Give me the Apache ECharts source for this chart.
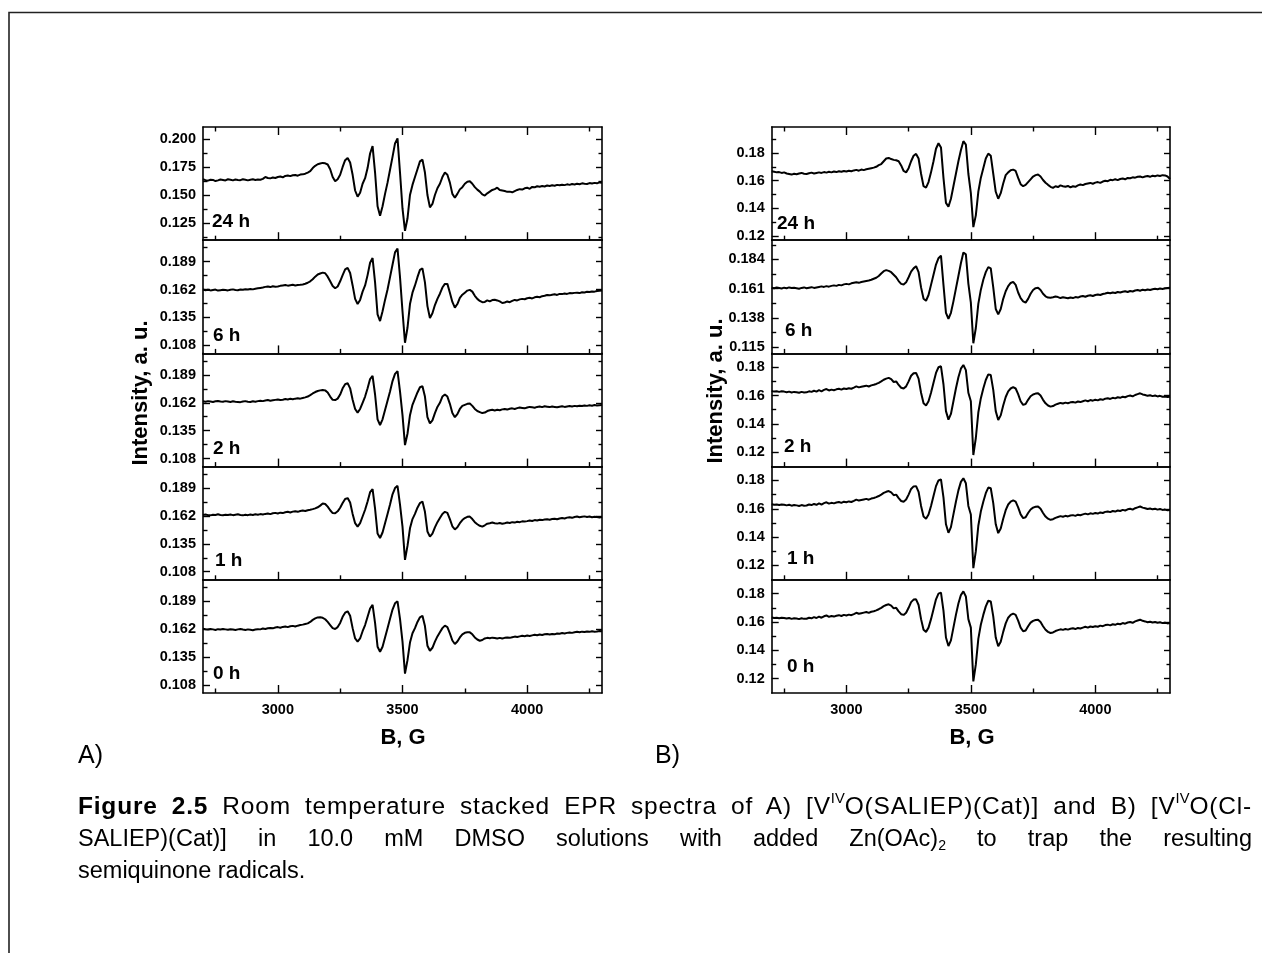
<!DOCTYPE html>
<html>
<head>
<meta charset="utf-8">
<title>Stacked EPR spectra</title>
<script src="https://cdn.jsdelivr.net/npm/echarts@6/dist/echarts.min.js"></script>
<style>
html, body { margin: 0; padding: 0; background: #fff; }
#chart { position: absolute; left: 0; top: 0; width: 1262px; height: 953px; }
#caption { position: absolute; left: 78px; top: 790px; width: 1174px; z-index: 2;
  font-family: "Liberation Sans", Arial, sans-serif; font-size: 23.5px; line-height: 32px; color: #000; }
#caption .j { text-align: justify; text-align-last: justify; }
#caption .first { font-size: 24.5px; letter-spacing: 0.8px; }
#caption sup { font-size: 60%; position: relative; top: -0.75em; vertical-align: baseline; line-height: 0; letter-spacing: 0; }
#caption sub { font-size: 60%; position: relative; top: 0.3em; vertical-align: baseline; line-height: 0; }
</style>
</head>
<body>
<div id="chart"></div>
<div id="caption">
  <div class="j first"><b>Figure 2.5</b> Room temperature stacked EPR spectra of A) [V<sup>IV</sup>O(SALIEP)(Cat)] and B) [V<sup>IV</sup>O(Cl-</div>
  <div class="j">SALIEP)(Cat)] in 10.0 mM DMSO solutions with added Zn(OAc)<sub>2</sub> to trap the resulting</div>
  <div>semiquinone radicals.</div>
</div>
<script>
// magnetic field, G (shared by every spectrum)
var fieldG = [
  2700,2710,2720,2730,2740,2750,2760,2770,2780,2790,
  2800,2810,2820,2830,2840,2850,2860,2870,2880,2890,
  2900,2910,2920,2930,2940,2950,2960,2970,2980,2990,
  3000,3010,3020,3030,3040,3050,3060,3070,3080,3090,
  3100,3110,3120,3130,3140,3150,3160,3170,3180,3190,
  3200,3210,3220,3230,3240,3250,3260,3270,3280,3290,
  3300,3310,3320,3330,3340,3350,3360,3370,3380,3390,
  3400,3410,3420,3430,3440,3450,3460,3470,3480,3490,
  3500,3510,3520,3530,3540,3550,3560,3570,3580,3590,
  3600,3610,3620,3630,3640,3650,3660,3670,3680,3690,
  3700,3710,3720,3730,3740,3750,3760,3770,3780,3790,
  3800,3810,3820,3830,3840,3850,3860,3870,3880,3890,
  3900,3910,3920,3930,3940,3950,3960,3970,3980,3990,
  4000,4010,4020,4030,4040,4050,4060,4070,4080,4090,
  4100,4110,4120,4130,4140,4150,4160,4170,4180,4190,
  4200,4210,4220,4230,4240,4250,4260,4270,4280,4290,
  4300
];

// A) [VO(SALIEP)(Cat)]
var specA24 = [
  .1640,.1632,.1628,.1636,.1634,.1624,.1630,.1638,.1634,.1630,
  .1640,.1636,.1630,.1638,.1634,.1632,.1640,.1636,.1630,.1636,
  .1640,.1634,.1638,.1636,.1644,.1660,.1652,.1648,.1656,.1652,
  .1660,.1664,.1658,.1670,.1674,.1668,.1676,.1678,.1672,.1682,
  .1684,.1690,.1700,.1712,.1740,.1760,.1774,.1780,.1786,.1782,
  .1772,.1730,.1660,.1622,.1640,.1680,.1750,.1810,.1830,.1790,
  .1680,.1540,.1485,.1520,.1600,.1650,.1740,.1870,.1935,.1700,
  .1400,.1315,.1400,.1510,.1610,.1725,.1840,.1960,.2005,.1700,
  .1380,.1180,.1290,.1500,.1590,.1660,.1730,.1800,.1815,.1700,
  .1500,.1390,.1420,.1500,.1560,.1600,.1660,.1700,.1680,.1610,
  .1510,.1475,.1510,.1550,.1570,.1600,.1618,.1622,.1600,.1570,
  .1548,.1530,.1505,.1495,.1515,.1530,.1545,.1552,.1565,.1545,
  .1540,.1535,.1528,.1530,.1524,.1535,.1545,.1552,.1548,.1560,
  .1565,.1555,.1572,.1568,.1578,.1574,.1580,.1576,.1584,.1580,
  .1586,.1582,.1590,.1586,.1592,.1588,.1595,.1590,.1598,.1594,
  .1600,.1596,.1604,.1600,.1598,.1606,.1602,.1608,.1604,.1612,
  .1610
];
var specA6 = [
  .1620,.1614,.1618,.1612,.1616,.1620,.1610,.1614,.1618,.1616,
  .1612,.1618,.1622,.1616,.1614,.1620,.1618,.1624,.1620,.1626,
  .1622,.1628,.1632,.1636,.1640,.1646,.1650,.1644,.1652,.1648,
  .1650,.1656,.1660,.1664,.1658,.1662,.1666,.1660,.1664,.1666,
  .1670,.1676,.1686,.1700,.1720,.1745,.1766,.1776,.1784,.1778,
  .1745,.1700,.1655,.1633,.1650,.1700,.1760,.1815,.1830,.1780,
  .1660,.1530,.1480,.1520,.1600,.1660,.1760,.1880,.1925,.1690,
  .1380,.1315,.1410,.1520,.1620,.1740,.1860,.1980,.2018,.1740,
  .1410,.1105,.1250,.1480,.1590,.1660,.1740,.1810,.1825,.1690,
  .1460,.1345,.1390,.1470,.1530,.1580,.1640,.1675,.1675,.1590,
  .1500,.1445,.1480,.1540,.1570,.1590,.1610,.1617,.1600,.1560,
  .1530,.1510,.1498,.1500,.1515,.1505,.1518,.1522,.1515,.1505,
  .1490,.1495,.1505,.1498,.1510,.1520,.1515,.1525,.1530,.1526,
  .1536,.1540,.1534,.1545,.1550,.1546,.1556,.1560,.1568,.1564,
  .1570,.1574,.1568,.1578,.1576,.1582,.1578,.1586,.1584,.1588,
  .1590,.1586,.1594,.1592,.1598,.1596,.1602,.1600,.1606,.1608,
  .1610
];
var specA2 = [
  .1634,.1630,.1636,.1632,.1628,.1634,.1638,.1632,.1630,.1636,
  .1632,.1628,.1634,.1630,.1628,.1626,.1632,.1636,.1630,.1628,
  .1634,.1630,.1636,.1640,.1636,.1642,.1646,.1640,.1644,.1648,
  .1652,.1646,.1650,.1656,.1652,.1658,.1654,.1660,.1664,.1660,
  .1666,.1672,.1680,.1694,.1710,.1724,.1734,.1740,.1744,.1740,
  .1720,.1680,.1648,.1646,.1660,.1700,.1760,.1800,.1810,.1760,
  .1650,.1560,.1525,.1560,.1620,.1680,.1760,.1850,.1880,.1700,
  .1460,.1405,.1460,.1550,.1640,.1730,.1830,.1900,.1926,.1730,
  .1500,.1210,.1320,.1500,.1600,.1660,.1720,.1770,.1780,.1680,
  .1480,.1420,.1450,.1520,.1580,.1620,.1680,.1700,.1680,.1610,
  .1520,.1480,.1510,.1560,.1590,.1600,.1610,.1612,.1590,.1560,
  .1540,.1530,.1520,.1525,.1540,.1548,.1552,.1546,.1552,.1548,
  .1556,.1560,.1554,.1562,.1566,.1560,.1568,.1574,.1570,.1566,
  .1574,.1580,.1576,.1572,.1580,.1584,.1578,.1586,.1582,.1578,
  .1584,.1580,.1576,.1582,.1586,.1580,.1584,.1588,.1584,.1590,
  .1586,.1592,.1588,.1594,.1590,.1596,.1592,.1598,.1594,.1596,
  .1598
];
var specA1 = [
  .1630,.1634,.1628,.1626,.1632,.1630,.1636,.1630,.1628,.1632,
  .1630,.1634,.1628,.1632,.1636,.1630,.1626,.1632,.1628,.1634,
  .1630,.1636,.1632,.1638,.1634,.1640,.1644,.1638,.1646,.1650,
  .1644,.1652,.1648,.1656,.1660,.1654,.1662,.1666,.1660,.1668,
  .1672,.1668,.1676,.1680,.1686,.1694,.1704,.1720,.1740,.1736,
  .1710,.1675,.1648,.1646,.1665,.1700,.1745,.1785,.1793,.1750,
  .1640,.1550,.1517,.1550,.1615,.1680,.1760,.1850,.1880,.1690,
  .1450,.1407,.1460,.1550,.1640,.1730,.1830,.1890,.1912,.1730,
  .1517,.1195,.1330,.1500,.1590,.1640,.1700,.1745,.1760,.1660,
  .1470,.1420,.1450,.1510,.1560,.1600,.1640,.1660,.1650,.1590,
  .1520,.1490,.1510,.1550,.1580,.1600,.1612,.1614,.1590,.1560,
  .1540,.1525,.1517,.1530,.1545,.1550,.1556,.1550,.1546,.1552,
  .1545,.1550,.1556,.1552,.1560,.1556,.1564,.1560,.1568,.1566,
  .1570,.1576,.1572,.1580,.1576,.1584,.1580,.1586,.1589,.1584,
  .1590,.1594,.1588,.1596,.1600,.1596,.1604,.1608,.1602,.1610,
  .1614,.1608,.1612,.1616,.1610,.1614,.1608,.1612,.1610,.1606,
  .1610
];
var specA0 = [
  .1625,.1620,.1616,.1622,.1618,.1612,.1620,.1616,.1622,.1618,
  .1614,.1620,.1616,.1612,.1618,.1622,.1616,.1612,.1618,.1614,
  .1610,.1616,.1620,.1618,.1626,.1622,.1628,.1632,.1628,.1636,
  .1640,.1634,.1642,.1646,.1640,.1648,.1652,.1646,.1654,.1660,
  .1664,.1670,.1676,.1690,.1710,.1724,.1734,.1735,.1730,.1716,
  .1690,.1660,.1630,.1622,.1640,.1680,.1740,.1780,.1793,.1750,
  .1630,.1530,.1500,.1530,.1600,.1660,.1740,.1820,.1855,.1680,
  .1450,.1402,.1450,.1540,.1630,.1720,.1810,.1870,.1890,.1720,
  .1500,.1190,.1320,.1490,.1580,.1630,.1690,.1735,.1750,.1650,
  .1460,.1411,.1440,.1500,.1550,.1590,.1630,.1654,.1640,.1580,
  .1510,.1476,.1500,.1540,.1570,.1585,.1590,.1589,.1570,.1540,
  .1520,.1508,.1515,.1530,.1536,.1532,.1538,.1535,.1530,.1536,
  .1530,.1536,.1540,.1536,.1542,.1548,.1544,.1550,.1556,.1552,
  .1558,.1554,.1560,.1566,.1562,.1568,.1564,.1570,.1573,.1568,
  .1574,.1570,.1578,.1576,.1582,.1578,.1584,.1588,.1584,.1590,
  .1594,.1590,.1596,.1592,.1598,.1594,.1600,.1596,.1598,.1602,
  .1599
];

// B) [VO(Cl-SALIEP)(Cat)]
var specB24 = [
  .1668,.1664,.1660,.1662,.1656,.1660,.1652,.1648,.1644,.1650,
  .1646,.1652,.1656,.1650,.1648,.1654,.1658,.1652,.1656,.1660,
  .1656,.1662,.1658,.1664,.1660,.1666,.1662,.1668,.1664,.1670,
  .1666,.1672,.1668,.1674,.1678,.1672,.1680,.1676,.1682,.1686,
  .1690,.1694,.1700,.1712,.1720,.1740,.1760,.1764,.1756,.1750,
  .1747,.1740,.1710,.1670,.1660,.1690,.1740,.1780,.1793,.1760,
  .1650,.1560,.1550,.1590,.1660,.1740,.1830,.1870,.1840,.1620,
  .1440,.1412,.1470,.1560,.1650,.1740,.1820,.1885,.1860,.1650,
  .1510,.1265,.1350,.1520,.1620,.1690,.1760,.1795,.1780,.1650,
  .1520,.1470,.1510,.1580,.1640,.1660,.1675,.1680,.1670,.1620,
  .1575,.1560,.1570,.1590,.1610,.1630,.1640,.1644,.1630,.1605,
  .1585,.1570,.1556,.1548,.1560,.1554,.1566,.1560,.1556,.1562,
  .1552,.1560,.1556,.1566,.1572,.1568,.1576,.1580,.1584,.1578,
  .1586,.1590,.1584,.1594,.1600,.1596,.1606,.1604,.1610,.1604,
  .1612,.1616,.1610,.1620,.1618,.1624,.1622,.1628,.1630,.1624,
  .1630,.1634,.1628,.1636,.1632,.1638,.1634,.1640,.1638,.1630,
  .1612
];
var specB6 = [
  .1618,.1614,.1620,.1616,.1612,.1618,.1614,.1620,.1616,.1618,
  .1614,.1610,.1616,.1620,.1614,.1618,.1622,.1616,.1620,.1624,
  .1628,.1624,.1630,.1626,.1632,.1636,.1632,.1640,.1636,.1644,
  .1648,.1644,.1652,.1656,.1660,.1656,.1662,.1666,.1670,.1674,
  .1680,.1688,.1696,.1710,.1730,.1748,.1756,.1750,.1740,.1720,
  .1700,.1670,.1648,.1643,.1660,.1700,.1745,.1770,.1787,.1740,
  .1620,.1530,.1515,.1560,.1640,.1720,.1800,.1850,.1870,.1640,
  .1420,.1373,.1420,.1510,.1610,.1710,.1810,.1895,.1880,.1650,
  .1500,.1180,.1300,.1490,.1600,.1680,.1740,.1780,.1770,.1620,
  .1450,.1407,.1450,.1530,.1590,.1630,.1655,.1664,.1640,.1580,
  .1535,.1510,.1500,.1530,.1570,.1600,.1614,.1617,.1600,.1570,
  .1550,.1540,.1538,.1542,.1548,.1544,.1536,.1542,.1538,.1534,
  .1540,.1536,.1544,.1540,.1548,.1552,.1546,.1554,.1558,.1552,
  .1560,.1564,.1560,.1568,.1572,.1578,.1574,.1580,.1576,.1584,
  .1580,.1586,.1590,.1584,.1592,.1588,.1596,.1600,.1594,.1602,
  .1598,.1604,.1600,.1606,.1610,.1606,.1612,.1608,.1614,.1616,
  .1617
];
// 2 h, 1 h and 0 h traces of B are drawn identically in the figure
var specBearly = [
  .1632,.1628,.1630,.1626,.1630,.1628,.1624,.1628,.1622,.1626,
  .1624,.1620,.1626,.1622,.1623,.1630,.1626,.1634,.1628,.1638,
  .1630,.1640,.1646,.1636,.1642,.1638,.1644,.1648,.1642,.1650,
  .1646,.1652,.1648,.1656,.1665,.1658,.1662,.1666,.1670,.1664,
  .1672,.1676,.1682,.1690,.1700,.1712,.1720,.1725,.1716,.1696,
  .1700,.1675,.1655,.1650,.1665,.1700,.1740,.1758,.1760,.1720,
  .1620,.1545,.1530,.1560,.1620,.1690,.1760,.1800,.1807,.1680,
  .1490,.1430,.1470,.1560,.1650,.1730,.1790,.1816,.1780,.1620,
  .1560,.1180,.1300,.1480,.1580,.1650,.1710,.1750,.1745,.1640,
  .1490,.1428,.1460,.1530,.1590,.1630,.1650,.1659,.1650,.1610,
  .1560,.1534,.1540,.1570,.1595,.1608,.1614,.1616,.1600,.1570,
  .1545,.1530,.1522,.1526,.1536,.1542,.1548,.1544,.1550,.1546,
  .1552,.1555,.1550,.1558,.1554,.1560,.1566,.1560,.1568,.1564,
  .1570,.1566,.1574,.1570,.1578,.1581,.1576,.1584,.1580,.1588,
  .1584,.1592,.1588,.1596,.1600,.1594,.1604,.1610,.1616,.1608,
  .1604,.1598,.1602,.1596,.1600,.1594,.1598,.1592,.1594,.1590,
  .1592
];

// tick labels
var fieldTicks = [3000, 3500, 4000];
var fieldMinor = [2750, 3250, 3750, 4250];
var ticksA24 = [0.125, 0.150, 0.175, 0.200];
var minorA24 = [0.1125, 0.1375, 0.1625, 0.1875];
var ticksA = [0.108, 0.135, 0.162, 0.189];
var minorA = [0.1215, 0.1485, 0.1755, 0.2025];
var ticksB24 = [0.12, 0.14, 0.16, 0.18];
var minorB24 = [0.13, 0.15, 0.17, 0.19];
var ticksB6 = [0.115, 0.138, 0.161, 0.184];
var minorB6 = [0.1265, 0.1495, 0.1725, 0.1955];
var ticksB = [0.12, 0.14, 0.16, 0.18];
var minorB = [0.13, 0.15, 0.17];
var timeLabels = ['24 h', '6 h', '2 h', '1 h', '0 h'];

var panels = [
  { side: 0, row: 0, data: specA24, yMin: 0.1097, yMax: 0.2106, ticks: ticksA24, minor: minorA24, dec: 3, lx: 212, ly: 221.7 },
  { side: 0, row: 1, data: specA6, yMin: 0.1002, yMax: 0.2098, ticks: ticksA, minor: minorA, dec: 3, lx: 213, ly: 335.7 },
  { side: 0, row: 2, data: specA2, yMin: 0.1002, yMax: 0.2098, ticks: ticksA, minor: minorA, dec: 3, lx: 213, ly: 448.7 },
  { side: 0, row: 3, data: specA1, yMin: 0.1002, yMax: 0.2098, ticks: ticksA, minor: minorA, dec: 3, lx: 215, ly: 560.7 },
  { side: 0, row: 4, data: specA0, yMin: 0.1002, yMax: 0.2098, ticks: ticksA, minor: minorA, dec: 3, lx: 213, ly: 673.7 },
  { side: 1, row: 0, data: specB24, yMin: 0.1171, yMax: 0.1987, ticks: ticksB24, minor: minorB24, dec: 2, lx: 777, ly: 223.7 },
  { side: 1, row: 1, data: specB6, yMin: 0.1100, yMax: 0.1992, ticks: ticksB6, minor: minorB6, dec: 3, lx: 785, ly: 330.7 },
  { side: 1, row: 2, data: specBearly, yMin: 0.1098, yMax: 0.1898, ticks: ticksB, minor: minorB, dec: 2, lx: 784, ly: 446.7 },
  { side: 1, row: 3, data: specBearly, yMin: 0.1098, yMax: 0.1898, ticks: ticksB, minor: minorB, dec: 2, lx: 787, ly: 558.7 },
  { side: 1, row: 4, data: specBearly, yMin: 0.1098, yMax: 0.1898, ticks: ticksB, minor: minorB, dec: 2, lx: 787, ly: 666.7 }
];

panels.forEach(function (p) {
  if (p.data.length !== fieldG.length) {
    throw new Error('panel ' + p.side + '/' + p.row + ' has ' + p.data.length + ' points');
  }
});

var FONT = '"Liberation Sans", Arial, Helvetica, sans-serif';
var TICK_FONT = 14.5;
var axisLine = { show: true, onZero: false, lineStyle: { color: '#000', width: 1.6 } };
var tickLine = { color: '#000', width: 1.4 };
var noLine = { show: false, onZero: false };

var grids = [], xAxes = [], yAxes = [], series = [];
var graphics = [
  { type: 'polyline', shape: { points: [[9, 953], [9, 12.5], [1262, 12.5]] },
    style: { stroke: '#222', lineWidth: 1.6, fill: null } }
];

panels.forEach(function (p, i) {
  var top = 127 + p.row * 113.2;
  grids.push({ left: p.side ? 771.7 : 203, top: top, width: p.side ? 398.3 : 399, height: 113.2 });

  var xBase = { gridIndex: i, type: 'value', min: 2700, max: 4300, splitLine: { show: false } };
  // bottom: major ticks (+ labels on the last row), then minor ticks
  xAxes.push(Object.assign({}, xBase, {
    position: 'bottom', axisLine: axisLine,
    axisTick: { show: true, inside: true, length: 8, customValues: fieldTicks, lineStyle: tickLine },
    axisLabel: { show: p.row === 4, customValues: fieldTicks, margin: 9, color: '#000',
      fontFamily: FONT, fontWeight: 'bold', fontSize: TICK_FONT,
      formatter: function (v) { return String(Math.round(v)); } }
  }));
  xAxes.push(Object.assign({}, xBase, {
    position: 'bottom', axisLine: noLine,
    axisTick: { show: true, inside: true, length: 4.5, customValues: fieldMinor, lineStyle: tickLine },
    axisLabel: { show: false }
  }));
  // top: frame line, ticks only on the first row
  xAxes.push(Object.assign({}, xBase, {
    position: 'top', axisLine: axisLine,
    axisTick: { show: p.row === 0, inside: true, length: 8, customValues: fieldTicks, lineStyle: tickLine },
    axisLabel: { show: false }
  }));
  xAxes.push(Object.assign({}, xBase, {
    position: 'top', axisLine: noLine,
    axisTick: { show: p.row === 0, inside: true, length: 4.5, customValues: fieldMinor, lineStyle: tickLine },
    axisLabel: { show: false }
  }));

  var yBase = { gridIndex: i, type: 'value', min: p.yMin, max: p.yMax, scale: true, splitLine: { show: false } };
  yAxes.push(Object.assign({}, yBase, {
    position: 'left', axisLine: axisLine,
    axisTick: { show: true, inside: true, length: 7, customValues: p.ticks, lineStyle: tickLine },
    axisLabel: { show: true, customValues: p.ticks, margin: 7, color: '#000',
      fontFamily: FONT, fontWeight: 'bold', fontSize: TICK_FONT,
      formatter: (function (d) { return function (v) { return Number(v).toFixed(d); }; })(p.dec) }
  }));
  yAxes.push(Object.assign({}, yBase, {
    position: 'left', axisLine: noLine,
    axisTick: { show: true, inside: true, length: 4.5, customValues: p.minor, lineStyle: tickLine },
    axisLabel: { show: false }
  }));
  yAxes.push(Object.assign({}, yBase, {
    position: 'right', axisLine: axisLine,
    axisTick: { show: true, inside: true, length: 6, customValues: p.ticks, lineStyle: tickLine },
    axisLabel: { show: false }
  }));
  yAxes.push(Object.assign({}, yBase, {
    position: 'right', axisLine: noLine,
    axisTick: { show: true, inside: true, length: 3.5, customValues: p.minor, lineStyle: tickLine },
    axisLabel: { show: false }
  }));

  series.push({
    type: 'line',
    name: (p.side ? 'B ' : 'A ') + timeLabels[p.row],
    xAxisIndex: i * 4,
    yAxisIndex: i * 4,
    data: fieldG.map(function (g, k) { return [g, p.data[k]]; }),
    showSymbol: false,
    symbol: 'none',
    smooth: false,
    lineStyle: { color: '#000', width: 2 },
    silent: true
  });

  graphics.push({
    type: 'text', x: p.lx, y: p.ly,
    style: { text: timeLabels[p.row], font: 'bold 19px ' + FONT, fill: '#000',
      textAlign: 'left', textVerticalAlign: 'middle', align: 'left', verticalAlign: 'middle' }
  });
});

// axis titles and panel letters
[403, 972].forEach(function (cx) {
  graphics.push({ type: 'text', x: cx, y: 738,
    style: { text: 'B, G', font: 'bold 22px ' + FONT, fill: '#000',
      textAlign: 'center', textVerticalAlign: 'middle', align: 'center', verticalAlign: 'middle' } });
});
[[141, 393], [716, 391]].forEach(function (c) {
  graphics.push({ type: 'text', x: c[0], y: c[1], rotation: Math.PI / 2,
    style: { text: 'Intensity, a. u.', font: 'bold 22px ' + FONT, fill: '#000',
      textAlign: 'center', textVerticalAlign: 'middle', align: 'center', verticalAlign: 'middle' } });
});
[['A)', 78], ['B)', 655]].forEach(function (c) {
  graphics.push({ type: 'text', x: c[1], y: 756,
    style: { text: c[0], font: '25px ' + FONT, fill: '#000',
      textAlign: 'left', textVerticalAlign: 'middle', align: 'left', verticalAlign: 'middle' } });
});

var chart = echarts.init(document.getElementById('chart'), null, { renderer: 'canvas' });
chart.setOption({
  animation: false,
  backgroundColor: '#fff',
  grid: grids,
  xAxis: xAxes,
  yAxis: yAxes,
  series: series,
  graphic: graphics
});
</script>
</body>
</html>
